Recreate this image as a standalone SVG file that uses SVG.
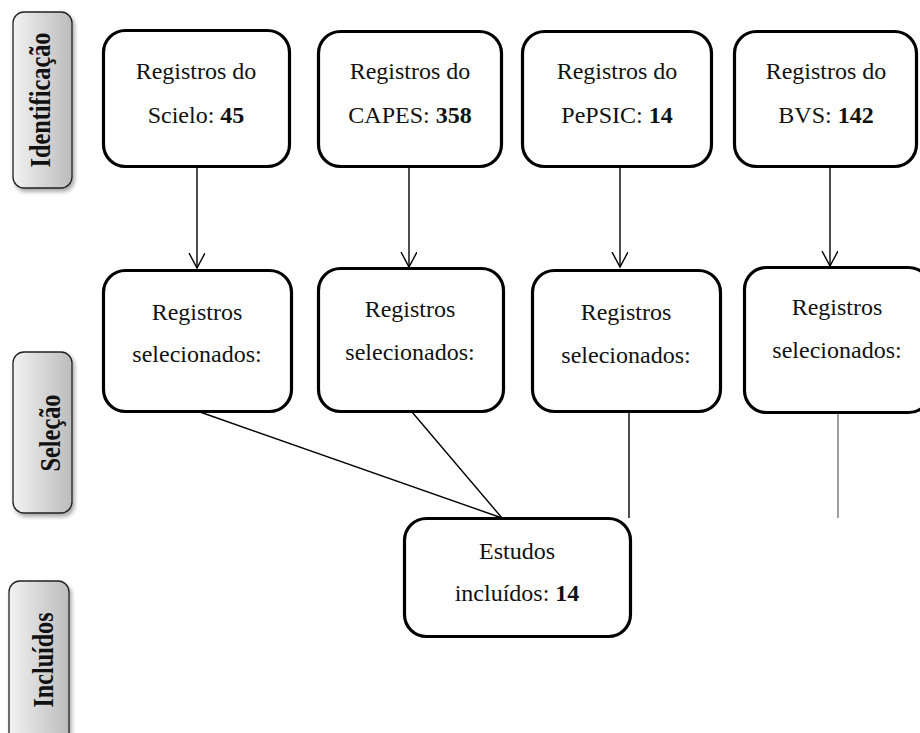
<svg xmlns="http://www.w3.org/2000/svg" width="920" height="733" viewBox="0 0 920 733">
<style>
.box{fill:#fff;stroke:#000;stroke-width:3.2}
.side{fill:url(#g);stroke:#222;stroke-width:1.3}
.t{font-family:"Liberation Serif","Times New Roman",serif;font-size:24px;fill:#111;text-anchor:middle}
.s{font-family:"Liberation Serif","Times New Roman",serif;font-size:30px;font-weight:bold;fill:#111;text-anchor:middle}
.b{font-weight:bold}
.c{fill:none;stroke:#000;stroke-width:1.4}
</style>
<defs>
<linearGradient id="g" x1="0" y1="0" x2="1" y2="0">
<stop offset="0" stop-color="#f2f2f2"/>
<stop offset="1" stop-color="#bcbcbc"/>
</linearGradient>
<filter id="sh" x="-20%" y="-10%" width="150%" height="130%">
<feGaussianBlur in="SourceAlpha" stdDeviation="2"/>
<feOffset dx="2" dy="3"/>
<feComponentTransfer><feFuncA type="linear" slope="0.35"/></feComponentTransfer>
<feMerge><feMergeNode/><feMergeNode in="SourceGraphic"/></feMerge>
</filter>
<marker id="ah" markerUnits="userSpaceOnUse" markerWidth="20" markerHeight="20" refX="15" refY="8" orient="auto">
<path d="M0,0 L15,8 L0,16" fill="none" stroke="#000" stroke-width="1.4"/>
</marker>
</defs>
<rect width="920" height="733" fill="#fff"/>

<g id="lbl-identificacao">
<rect class="side" filter="url(#sh)" x="13" y="12" width="59" height="176" rx="11"/>
<text class="s" transform="translate(50,100) rotate(-90)" textLength="135" lengthAdjust="spacingAndGlyphs">Identificação</text>
</g>
<g id="lbl-selecao">
<rect class="side" filter="url(#sh)" x="13" y="352" width="59" height="161" rx="11"/>
<text class="s" transform="translate(60,433) rotate(-90)" textLength="77" lengthAdjust="spacingAndGlyphs">Seleção</text>
</g>
<g id="lbl-incluidos">
<rect class="side" filter="url(#sh)" x="9" y="581" width="60" height="170" rx="11"/>
<text class="s" transform="translate(53,660) rotate(-90)" textLength="95" lengthAdjust="spacingAndGlyphs">Incluídos</text>
</g>

<g id="connectors">
<line class="c" x1="197" y1="167" x2="197" y2="268" marker-end="url(#ah)"/>
<line class="c" x1="409" y1="167" x2="409" y2="267" marker-end="url(#ah)"/>
<line class="c" x1="620" y1="167" x2="620" y2="267" marker-end="url(#ah)"/>
<line class="c" x1="830" y1="167" x2="830" y2="266" marker-end="url(#ah)"/>
<line class="c" x1="200" y1="412" x2="502" y2="518"/>
<line class="c" x1="412" y1="412" x2="502" y2="518"/>
<line class="c" x1="629" y1="412" x2="629" y2="518" stroke="#444"/>
<line x1="838" y1="413" x2="838" y2="518" stroke="#777" stroke-width="1.4"/>
</g>

<g id="scielo">
<rect class="box" x="103.5" y="30.5" width="186" height="136" rx="22"/>
<text class="t" x="196" y="79">Registros do</text>
<text class="t" x="196" y="123">Scielo: <tspan class="b">45</tspan></text>
</g>
<g id="capes">
<rect class="box" x="318.5" y="31.5" width="183" height="135" rx="22"/>
<text class="t" x="410" y="79">Registros do</text>
<text class="t" x="410" y="123">CAPES: <tspan class="b">358</tspan></text>
</g>
<g id="pepsic">
<rect class="box" x="522.5" y="31.5" width="189" height="135" rx="22"/>
<text class="t" x="617" y="79">Registros do</text>
<text class="t" x="617" y="123">PePSIC: <tspan class="b">14</tspan></text>
</g>
<g id="bvs">
<rect class="box" x="734.5" y="31.5" width="182" height="135" rx="22"/>
<text class="t" x="826" y="79">Registros do</text>
<text class="t" x="826" y="123">BVS: <tspan class="b">142</tspan></text>
</g>

<g id="sel-scielo">
<rect class="box" x="103.5" y="270.5" width="188" height="141" rx="22"/>
<text class="t" x="197" y="320">Registros</text>
<text class="t" x="197" y="362">selecionados:</text>
</g>
<g id="sel-capes">
<rect class="box" x="318.5" y="268.5" width="185" height="143" rx="22"/>
<text class="t" x="410" y="317">Registros</text>
<text class="t" x="410" y="360">selecionados:</text>
</g>
<g id="sel-pepsic">
<rect class="box" x="532.5" y="270.5" width="188" height="141" rx="22"/>
<text class="t" x="626" y="320">Registros</text>
<text class="t" x="626" y="363">selecionados:</text>
</g>
<g id="sel-bvs">
<rect class="box" x="744.5" y="267.5" width="186" height="145" rx="22"/>
<text class="t" x="837" y="315">Registros</text>
<text class="t" x="837" y="358">selecionados:</text>
</g>

<g id="estudos">
<rect class="box" x="404.5" y="518.5" width="226" height="118" rx="22"/>
<text class="t" x="517" y="559">Estudos</text>
<text class="t" x="517" y="601">incluídos: <tspan class="b">14</tspan></text>
</g>
</svg>
